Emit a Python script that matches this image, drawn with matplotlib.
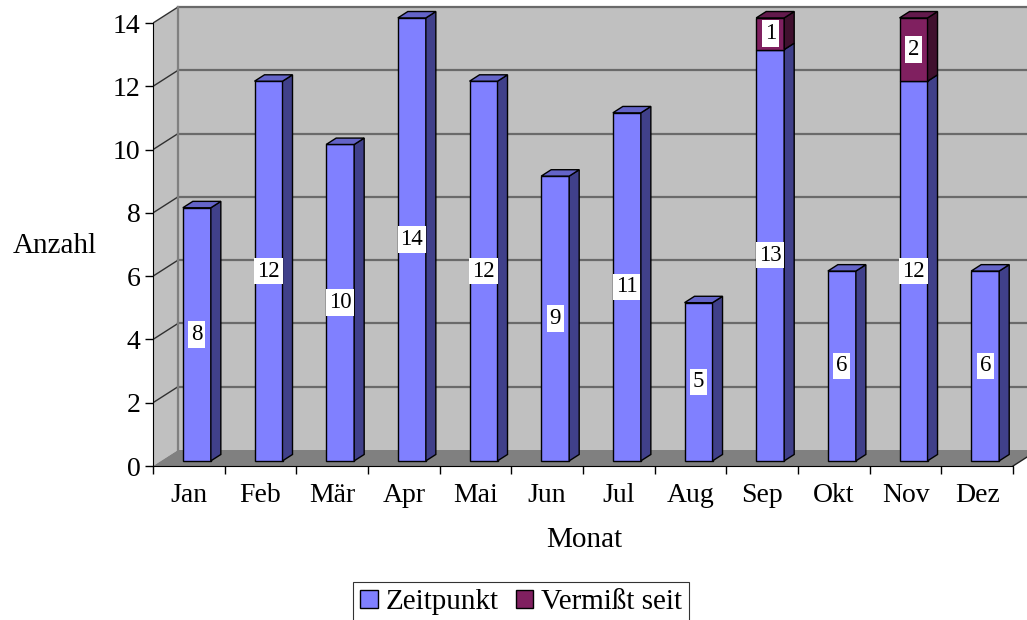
import matplotlib
matplotlib.use('Agg')
import matplotlib.pyplot as plt
from matplotlib.patches import Polygon, Patch

months = ['Jan', 'Feb', 'Mär', 'Apr', 'Mai', 'Jun', 'Jul', 'Aug', 'Sep', 'Okt', 'Nov', 'Dez']
zeitpunkt = [8, 12, 10, 14, 12, 9, 11, 5, 13, 6, 12, 6]
vermisst = [0, 0, 0, 0, 0, 0, 0, 0, 1, 0, 2, 0]
series_names = ['Zeitpunkt', 'Vermißt seit']
yticks = [0, 2, 4, 6, 8, 10, 12, 14]

plt.rcParams['font.family'] = ['Liberation Serif', 'DejaVu Serif']

W, H = 1027, 620
fig = plt.figure(figsize=(W / 100, H / 100), dpi=100)
px_cat = 71.67
px_val = 31.64
x0px, y0px = 153, 466
xmax = (W - x0px) / px_cat
ymax = 14.6
ax = fig.add_axes([x0px / W, (H - y0px) / H, (W - x0px) / W, ymax * px_val / H])
ax.set_xlim(0, xmax)
ax.set_ylim(0, ymax)
ax.set_facecolor('none')

n = len(months)
ytop = yticks[-1]
DX = 25 / px_cat
DY = 16 / px_val

# walls and floor
ax.add_patch(Polygon([(DX, DY), (n + DX, DY), (n + DX, ytop + DY), (DX, ytop + DY)],
                     closed=True, fc='#c0c0c0', ec='none', zorder=0.1))
ax.add_patch(Polygon([(0, 0), (DX, DY), (DX, ytop + DY), (0, ytop)],
                     closed=True, fc='#c0c0c0', ec='none', zorder=0.1))
ax.add_patch(Polygon([(0, 0), (n, 0), (n + DX, DY), (DX, DY)],
                     closed=True, fc='#808080', ec='none', zorder=0.2))

for v in yticks[1:]:
    ax.plot([0, DX], [v, v + DY], color='#303030', lw=1.0, zorder=0.3)
    ax.plot([DX, n + DX], [v + DY, v + DY], color='#6a6a6a', lw=1.6, zorder=0.3)
ax.plot([DX, DX], [DY, ytop + DY], color='#808080', lw=1.6, zorder=0.3)
ax.plot([n, n + DX], [0, DY], color='#202020', lw=1.0, zorder=0.3)

# 3D bars
w = 28 / px_cat
f0, f1 = 0.32, 0.72
styles = [
    dict(front='#8080ff', side='#40408a', top='#6464c8'),
    dict(front='#802060', side='#40102e', top='#631a4c'),
]
series = [zeitpunkt, vermisst]
z = 2
for i in range(n):
    base = 0
    segs = []
    for s, vals in enumerate(series):
        if vals[i] > 0:
            segs.append((s, base, base + vals[i]))
            base += vals[i]
    for k, (s, y0, y1) in enumerate(segs):
        st = styles[s]
        xl = i + 0.5 - w / 2
        xr = i + 0.5 + w / 2
        ax.add_patch(Polygon([(xl + f0 * DX, y0 + f0 * DY), (xr + f0 * DX, y0 + f0 * DY),
                              (xr + f0 * DX, y1 + f0 * DY), (xl + f0 * DX, y1 + f0 * DY)],
                             closed=True, fc=st['front'], ec='black', lw=1.0, zorder=z))
        ax.add_patch(Polygon([(xr + f0 * DX, y0 + f0 * DY), (xr + f1 * DX, y0 + f1 * DY),
                              (xr + f1 * DX, y1 + f1 * DY), (xr + f0 * DX, y1 + f0 * DY)],
                             closed=True, fc=st['side'], ec='black', lw=1.0, zorder=z))
        if k == len(segs) - 1:
            ax.add_patch(Polygon([(xl + f0 * DX, y1 + f0 * DY), (xr + f0 * DX, y1 + f0 * DY),
                                  (xr + f1 * DX, y1 + f1 * DY), (xl + f1 * DX, y1 + f1 * DY)],
                                 closed=True, fc=st['top'], ec='black', lw=1.0, zorder=z))
        ax.text(i + 0.5 + f0 * DX, (y0 + y1) / 2 + f0 * DY, str(series[s][i]),
                ha='center', va='center', fontsize=16.5, zorder=z + 0.5,
                bbox=dict(fc='white', ec='none', pad=2.0))
        z += 1

# axes
for sp in ['top', 'right']:
    ax.spines[sp].set_visible(False)
ax.spines['left'].set_position(('data', 0))
ax.spines['left'].set_bounds(0, ytop)
ax.spines['bottom'].set_position(('data', 0))
ax.spines['bottom'].set_bounds(0, n)
ax.spines['left'].set_zorder(10)
ax.spines['bottom'].set_zorder(10)
ax.set_yticks(yticks)
ax.set_yticklabels([str(v) for v in yticks])
ax.tick_params(axis='y', direction='out', length=6, width=1, pad=3, labelsize=20)
ax.set_xticks(range(n + 1))
ax.set_xticklabels([])
ax.set_xticks([i + 0.5 for i in range(n)], minor=True)
ax.set_xticklabels(months, minor=True)
ax.tick_params(axis='x', which='major', direction='out', length=6, width=1)
ax.tick_params(axis='x', which='minor', length=0, pad=12, labelsize=20)

fig.text(55 / W, 1 - 246 / H, 'Anzahl', ha='center', va='center', fontsize=21)
fig.text(584 / W, 1 - 540 / H, 'Monat', ha='center', va='center', fontsize=21)

handles = [Patch(fc=styles[0]['front'], ec='black', lw=1.0),
           Patch(fc=styles[1]['front'], ec='black', lw=1.0)]
leg = fig.legend(handles, series_names, loc='upper center', bbox_to_anchor=(521 / W, 1 - 582 / H),
                 ncol=2, fontsize=21, frameon=True, fancybox=False, edgecolor='black',
                 handlelength=0.6, handleheight=0.6, handletextpad=0.25, columnspacing=0.6,
                 borderpad=0.25, borderaxespad=0)
leg.get_frame().set_linewidth(0.8)

fig.savefig('out.png', dpi=100)
